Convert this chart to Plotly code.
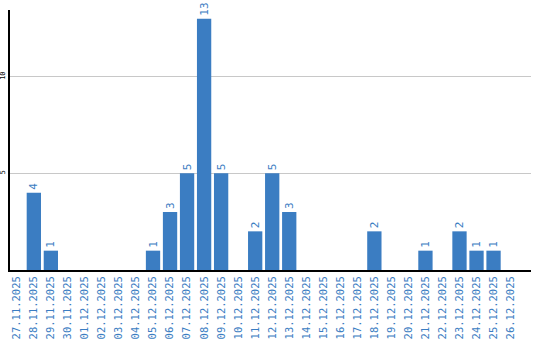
import plotly.graph_objects as go

dates = ["27.11.2025", "28.11.2025", "29.11.2025", "30.11.2025", "01.12.2025",
         "02.12.2025", "03.12.2025", "04.12.2025", "05.12.2025", "06.12.2025",
         "07.12.2025", "08.12.2025", "09.12.2025", "10.12.2025", "11.12.2025",
         "12.12.2025", "13.12.2025", "14.12.2025", "15.12.2025", "16.12.2025",
         "17.12.2025", "18.12.2025", "19.12.2025", "20.12.2025", "21.12.2025",
         "22.12.2025", "23.12.2025", "24.12.2025", "25.12.2025", "26.12.2025"]
counts = [0, 4, 1, 0, 0, 0, 0, 0, 1, 3,
          5, 13, 5, 0, 2, 5, 3, 0, 0, 0,
          0, 2, 0, 0, 1, 0, 2, 1, 1, 0]
y_ticks = [5, 10]

blue = "#3b7dc2"
labels = [str(v) if v else "" for v in counts]

fig = go.Figure(go.Bar(
    x=list(range(len(dates))), y=counts, text=labels,
    textposition="outside", textangle=-90, cliponaxis=False,
    constraintext="none",
    textfont=dict(family="DejaVu Sans Mono", size=11, color=blue),
    marker=dict(color=blue, line=dict(width=0)),
    width=0.84,
))
fig.update_layout(
    width=540, height=340,
    margin=dict(l=10, r=9, t=10, b=70, autoexpand=False),
    paper_bgcolor="white", plot_bgcolor="white",
    showlegend=False,
    xaxis=dict(
        tickmode="array", tickvals=list(range(len(dates))), ticktext=dates,
        tickangle=-90, range=[-0.4, 30.2], automargin=False,
        tickfont=dict(family="DejaVu Sans Mono", size=10.5, color=blue),
        showline=True, linecolor="black", linewidth=2,
        showgrid=False, ticks="", zeroline=False,
    ),
    yaxis=dict(
        range=[0, 13.45], tickvals=y_ticks, ticktext=[str(t) for t in y_ticks],
        tickangle=-90, automargin=False,
        tickfont=dict(family="DejaVu Sans Mono", size=7, color="black"),
        showline=True, linecolor="black", linewidth=2,
        showgrid=True, gridcolor="#c8c8c8", gridwidth=1,
        zeroline=False, ticks="",
    ),
)
fig.write_html("out.html")
